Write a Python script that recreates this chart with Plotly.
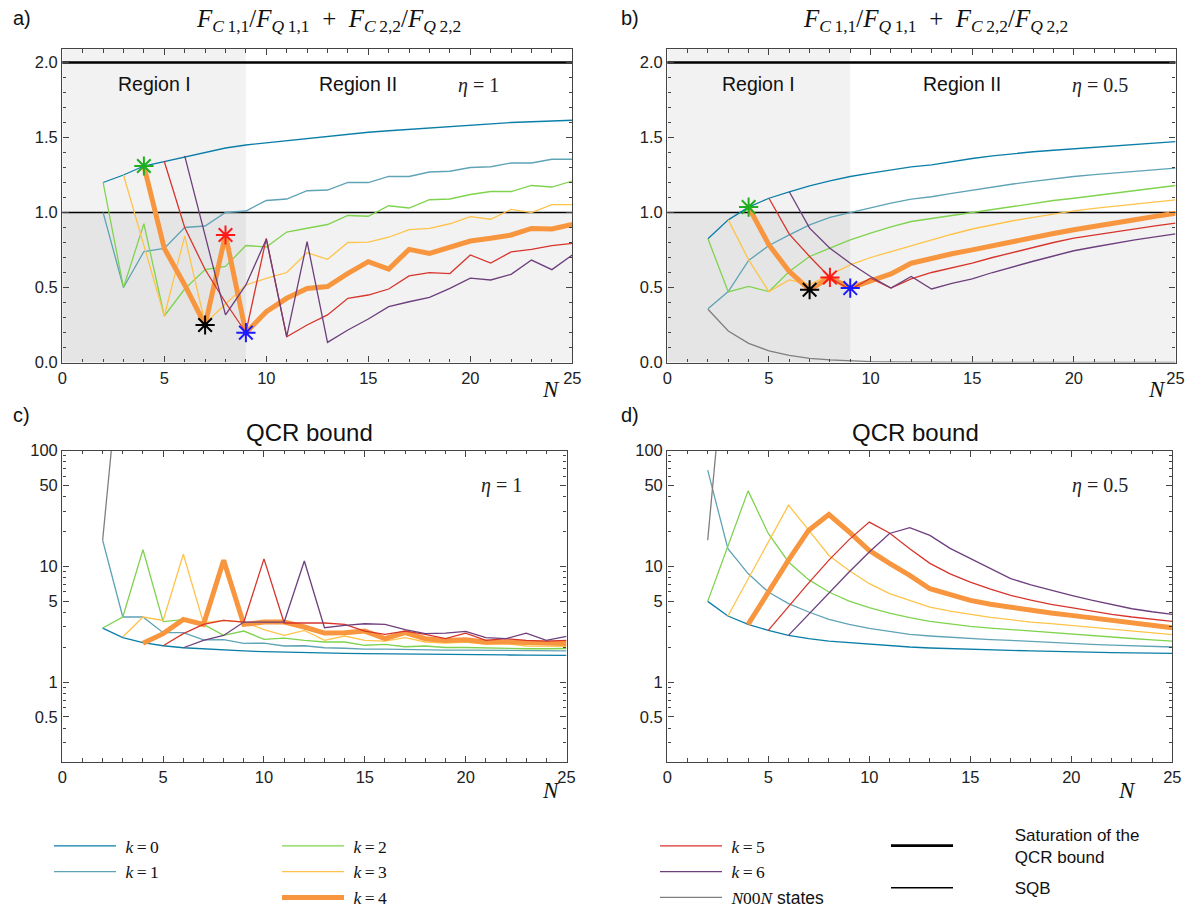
import plotly.graph_objects as go

# ---------------- data ----------------
# panel a) eta = 1 : F_C11/F_Q11 + F_C22/F_Q22
A_K0 = [1.20, 1.25, 1.31, 1.34, 1.375, 1.40, 1.43, 1.45, 1.465, 1.48, 1.495, 1.505, 1.52, 1.535, 1.545, 1.555, 1.565, 1.575, 1.585, 1.59, 1.60, 1.605, 1.61, 1.615]
A_K1 = [1.00, 0.50, 0.74, 0.76, 0.90, 0.91, 1.00, 1.01, 1.08, 1.09, 1.145, 1.15, 1.20, 1.20, 1.24, 1.24, 1.27, 1.275, 1.30, 1.305, 1.33, 1.33, 1.355, 1.355]
A_K2 = [1.20, 0.50, 0.925, 0.31, 0.49, 0.62, 0.64, 0.78, 0.77, 0.87, 0.895, 0.92, 0.98, 0.975, 1.045, 1.03, 1.085, 1.09, 1.12, 1.14, 1.14, 1.18, 1.17, 1.21]
A_K3 = [1.25, 0.78, 0.31, 0.843, 0.26, 0.39, 0.517, 0.561, 0.60, 0.732, 0.688, 0.80, 0.803, 0.835, 0.886, 0.894, 0.925, 0.972, 0.955, 1.021, 0.999, 1.052, 1.052]
A_K4 = [1.31, 0.761, 0.517, 0.25, 0.85, 0.199, 0.339, 0.428, 0.494, 0.506, 0.594, 0.672, 0.623, 0.754, 0.727, 0.772, 0.81, 0.828, 0.85, 0.894, 0.89, 0.921]
A_K5 = [1.34, 0.90, 0.62, 0.40, 0.20, 0.828, 0.172, 0.25, 0.317, 0.428, 0.45, 0.49, 0.577, 0.599, 0.593, 0.717, 0.663, 0.737, 0.754, 0.779, 0.794]
A_K6 = [1.377, 0.84, 0.317, 0.517, 0.822, 0.172, 0.805, 0.134, 0.217, 0.29, 0.372, 0.405, 0.434, 0.494, 0.563, 0.55, 0.588, 0.683, 0.619, 0.717]

# panel b) eta = 0.5
B_K0 = [0.825, 0.951, 1.036, 1.095, 1.138, 1.178, 1.211, 1.24, 1.262, 1.284, 1.304, 1.318, 1.34, 1.36, 1.377, 1.392, 1.405, 1.415, 1.425, 1.435, 1.445, 1.455, 1.465, 1.473]
B_K1 = [0.358, 0.473, 0.68, 0.78, 0.851, 0.918, 0.967, 1.0, 1.033, 1.062, 1.089, 1.105, 1.128, 1.15, 1.17, 1.19, 1.208, 1.225, 1.24, 1.253, 1.265, 1.276, 1.287, 1.296]
B_K2 = [0.825, 0.47, 0.507, 0.473, 0.607, 0.707, 0.762, 0.818, 0.862, 0.904, 0.94, 0.96, 0.985, 1.005, 1.025, 1.045, 1.063, 1.08, 1.095, 1.112, 1.129, 1.146, 1.163, 1.18]
B_K3 = [0.951, 0.684, 0.473, 0.551, 0.52, 0.584, 0.651, 0.70, 0.74, 0.778, 0.815, 0.855, 0.89, 0.92, 0.945, 0.968, 0.99, 1.011, 1.027, 1.042, 1.057, 1.071, 1.084]
B_K4 = [1.036, 0.784, 0.607, 0.485, 0.567, 0.496, 0.544, 0.591, 0.662, 0.695, 0.725, 0.751, 0.78, 0.81, 0.835, 0.86, 0.885, 0.91, 0.93, 0.952, 0.974, 0.995]
B_K5 = [1.095, 0.856, 0.707, 0.567, 0.485, 0.562, 0.496, 0.558, 0.60, 0.632, 0.662, 0.70, 0.735, 0.77, 0.80, 0.829, 0.85, 0.872, 0.892, 0.911, 0.929]
B_K6 = [1.138, 0.896, 0.762, 0.662, 0.573, 0.496, 0.573, 0.49, 0.527, 0.558, 0.60, 0.64, 0.675, 0.71, 0.745, 0.77, 0.795, 0.818, 0.838, 0.858]
B_N00N = [0.355, 0.21, 0.128, 0.078, 0.047, 0.028, 0.017, 0.010, 0.006, 0.004, 0.002, 0.0015, 0.001, 0.0006, 0.0004, 0.0002, 0.0001, 0.0001, 0.0, 0.0, 0.0, 0.0, 0.0, 0.0]

# panel c) QCR bound, eta = 1
C_K0 = [2.93, 2.42, 2.19, 2.06, 1.98, 1.93, 1.89, 1.86, 1.83, 1.81, 1.80, 1.79, 1.77, 1.76, 1.75, 1.745, 1.74, 1.735, 1.73, 1.72, 1.715, 1.71, 1.705, 1.70]
C_K1 = [16.8, 3.65, 3.65, 2.67, 2.67, 2.32, 2.33, 2.16, 2.17, 2.05, 2.06, 1.98, 1.96, 1.93, 1.93, 1.91, 1.91, 1.89, 1.89, 1.88, 1.88, 1.87, 1.87, 1.86]
C_K2 = [2.93, 3.65, 13.9, 3.33, 3.46, 3.15, 2.53, 2.76, 2.34, 2.40, 2.29, 2.22, 2.22, 2.08, 2.12, 2.02, 2.05, 1.99, 1.99, 1.97, 1.96, 1.94, 1.94, 1.95]
C_K3 = [2.45, 3.65, 3.41, 12.7, 3.24, 3.41, 3.30, 2.84, 2.53, 2.80, 2.29, 2.50, 2.29, 2.26, 2.42, 2.22, 2.17, 2.22, 2.12, 2.15, 2.05, 2.05, 2.04]
C_K4 = [2.17, 2.62, 3.48, 3.15, 11.3, 3.15, 3.30, 3.30, 2.99, 2.65, 2.67, 2.76, 2.37, 2.67, 2.37, 2.29, 2.32, 2.22, 2.22, 2.19, 2.17, 2.15]
C_K5 = [2.06, 2.62, 3.15, 3.41, 3.30, 11.6, 3.24, 3.24, 3.24, 3.15, 2.76, 2.58, 2.76, 2.58, 2.37, 2.65, 2.29, 2.37, 2.29, 2.26, 2.29]
C_K6 = [1.98, 2.29, 2.53, 3.30, 3.30, 3.30, 11.1, 2.95, 3.09, 3.19, 3.15, 2.84, 2.62, 2.65, 2.74, 2.42, 2.37, 2.65, 2.29, 2.48]
C_N00N = [16.8, 1070.0]

# panel d) QCR bound, eta = 0.5
D_K0 = [4.98, 3.72, 3.15, 2.80, 2.53, 2.37, 2.26, 2.19, 2.12, 2.06, 2.01, 1.97, 1.94, 1.92, 1.90, 1.88, 1.86, 1.84, 1.82, 1.81, 1.80, 1.79, 1.78, 1.77]
D_K1 = [67.6, 14.2, 8.65, 6.0, 4.76, 4.03, 3.48, 3.15, 2.91, 2.74, 2.58, 2.50, 2.43, 2.37, 2.33, 2.29, 2.24, 2.20, 2.17, 2.12, 2.09, 2.06, 2.03, 2.01]
D_K2 = [4.98, 14.9, 44.8, 19.2, 10.9, 7.67, 6.0, 5.01, 4.40, 3.95, 3.60, 3.35, 3.17, 3.03, 2.93, 2.84, 2.75, 2.68, 2.62, 2.53, 2.45, 2.38, 2.32, 2.26]
D_K3 = [3.72, 7.76, 16.2, 33.7, 20.5, 12.4, 9.2, 7.08, 5.8, 5.08, 4.45, 4.1, 3.85, 3.62, 3.46, 3.30, 3.20, 3.09, 2.97, 2.85, 2.75, 2.66, 2.57]
D_K4 = [3.15, 6.0, 11.3, 20.5, 28.0, 19.8, 13.7, 10.6, 8.36, 6.4, 5.7, 5.08, 4.7, 4.40, 4.15, 3.95, 3.77, 3.58, 3.40, 3.23, 3.08, 2.95]
D_K5 = [2.80, 4.5, 7.2, 11.3, 17.0, 24.1, 19.4, 14.2, 10.6, 8.6, 7.31, 6.35, 5.61, 5.1, 4.7, 4.40, 4.10, 3.85, 3.65, 3.48, 3.35]
D_K6 = [2.53, 3.86, 5.86, 8.93, 13.3, 19.2, 21.6, 18.5, 14.3, 11.7, 9.5, 7.83, 6.9, 6.2, 5.61, 5.1, 4.65, 4.3, 4.05, 3.85]
D_N00N = [16.8, 1300.0]

K_START = [2, 2, 2, 3, 4, 5, 6]   # first N of k = 0..6
N00N_START = 2
N_MAX = 25

STAR_N = [4, 7, 8, 9]            # stars sit on the k = 4 curve
STAR_COLORS = ["#1fae1f", "#000000", "#ff1a1a", "#1a1aff"]

SATURATION = 2.0
SQB = 1.0
REGION_I_END = 9

K_COLORS = ["#0b7ea8", "#5fa3b6", "#7fd34e", "#ffc34a", "#f7963f", "#d7352b", "#6d3f7d"]
N00N_COLOR = "#7f7f7f"
K_LABELS = ["\u2005<i>k</i>\u2009=\u2009%d" % k for k in range(7)]
N00N_LABEL = "\u2005<i>N</i>00<i>N</i><span style='font-family:Liberation Sans'> states</span>"

PANELS = [
    ("x", "y", [A_K0, A_K1, A_K2, A_K3, A_K4, A_K5, A_K6], None),
    ("x2", "y2", [B_K0, B_K1, B_K2, B_K3, B_K4, B_K5, B_K6], B_N00N),
    ("x3", "y3", [C_K0, C_K1, C_K2, C_K3, C_K4, C_K5, C_K6], C_N00N),
    ("x4", "y4", [D_K0, D_K1, D_K2, D_K3, D_K4, D_K5, D_K6], D_N00N),
]
LEGEND_OF_K = ["legend", "legend", "legend2", "legend2", "legend2", "legend3", "legend3"]

fig = go.Figure()

for pi, (xa, ya, series, n00n) in enumerate(PANELS):
    for k, vals in enumerate(series):
        ns = list(range(K_START[k], K_START[k] + len(vals)))
        fig.add_trace(go.Scatter(
            x=ns, y=vals, mode="lines", xaxis=xa, yaxis=ya,
            line=dict(color=K_COLORS[k], width=5 if k == 4 else 1.3),
            name=K_LABELS[k], legendgroup="k%d" % k, legend=LEGEND_OF_K[k],
            showlegend=(pi == 0), hoverinfo="x+y"))
    if n00n is not None:
        ns = list(range(N00N_START, N00N_START + len(n00n)))
        fig.add_trace(go.Scatter(
            x=ns, y=n00n, mode="lines", xaxis=xa, yaxis=ya,
            line=dict(color=N00N_COLOR, width=1.3), name=N00N_LABEL,
            legendgroup="n00n", legend="legend3", showlegend=(pi == 1)))

# stars on the k = 4 curve in panels a) and b)
for xa, ya, k4 in [("x", "y", A_K4), ("x2", "y2", B_K4)]:
    fig.add_trace(go.Scatter(
        x=STAR_N, y=[k4[n - K_START[4]] for n in STAR_N], mode="markers",
        xaxis=xa, yaxis=ya, showlegend=False,
        marker=dict(symbol="asterisk-open", size=16, color=STAR_COLORS,
                    line=dict(color=STAR_COLORS, width=2))))

# legend-only entries for the reference lines
PAD = "\u00a0" * 12
fig.add_trace(go.Scatter(x=[None], y=[None], mode="lines", line=dict(color="black", width=2.8),
                         name=PAD + "Saturation of the<br>" + PAD + "QCR bound",
                         legend="legend4", legendgroup="sat"))
fig.add_trace(go.Scatter(x=[None], y=[None], mode="lines", line=dict(color="black", width=1.5),
                         name=PAD + "SQB", legend="legend4", legendgroup="sqb"))

# ---------------- axes ----------------
FRAME = "#444444"
TICKFONT = dict(family="Liberation Sans, Arial, sans-serif", size=16.5, color="#222222")


def xaxis(domain, anchor):
    return dict(domain=domain, anchor=anchor, range=[0, N_MAX], showgrid=False, zeroline=False,
                showline=True, linecolor=FRAME, linewidth=1.4, mirror="allticks", automargin=False,
                ticks="inside", ticklen=6, tickwidth=1.2, tickcolor=FRAME,
                tickvals=[0, 5, 10, 15, 20, 25], tickfont=TICKFONT,
                minor=dict(ticks="inside", dtick=1, ticklen=3.5, tickcolor=FRAME, showgrid=False))


def yaxis_lin(domain, anchor):
    return dict(domain=domain, anchor=anchor, range=[0, 2.09], showgrid=False, zeroline=False,
                showline=True, linecolor=FRAME, linewidth=1.4, mirror="allticks", automargin=False,
                ticks="inside", ticklen=6, tickwidth=1.2, tickcolor=FRAME,
                tickvals=[0, 0.5, 1.0, 1.5, 2.0], tickformat=".1f", tickfont=TICKFONT,
                minor=dict(ticks="inside", dtick=0.1, ticklen=3.5, tickcolor=FRAME, showgrid=False))


LOG_MAJOR = [0.5, 1, 5, 10, 50, 100]
LOG_MINOR = [0.2, 0.3, 0.4, 0.6, 0.7, 0.8, 0.9, 2, 3, 4, 6, 7, 8, 9, 20, 30, 40, 60, 70, 80, 90]


def yaxis_log(domain, anchor):
    return dict(domain=domain, anchor=anchor, type="log", range=[-0.69, 2.0], showgrid=False,
                zeroline=False, showline=True, linecolor=FRAME, linewidth=1.4, mirror="allticks",
                automargin=False, ticks="inside", ticklen=6, tickwidth=1.2, tickcolor=FRAME,
                tickvals=LOG_MAJOR, ticktext=["0.5", "1", "5", "10", "50", "100"], tickfont=TICKFONT,
                minor=dict(ticks="inside", tickvals=LOG_MINOR, ticklen=3.5, tickcolor=FRAME, showgrid=False))


XL = [62.3 / 1191, 572.3 / 1191]
XR = [667.3 / 1191, 1175.5 / 1191]
XLc = [62.3 / 1191, 566.5 / 1191]
XRd = [667.3 / 1191, 1172.3 / 1191]
YT = [1 - 362.5 / 910, 1 - 49 / 910]
YB = [1 - 762 / 910, 1 - 450.5 / 910]

fig.update_layout(
    xaxis=xaxis(XL, "y"), yaxis=yaxis_lin(YT, "x"),
    xaxis2=xaxis(XR, "y2"), yaxis2=yaxis_lin(YT, "x2"),
    xaxis3=xaxis(XLc, "y3"), yaxis3=yaxis_log(YB, "x3"),
    xaxis4=xaxis(XRd, "y4"), yaxis4=yaxis_log(YB, "x4"),
)

# ---------------- shading + reference lines ----------------
shapes = []
for xa, ya in [("x", "y"), ("x2", "y2")]:
    shapes.append(dict(type="rect", xref=xa, yref=ya + " domain", x0=0, x1=REGION_I_END, y0=0, y1=1,
                       fillcolor="rgba(0,0,0,0.05)", line=dict(width=0), layer="below"))
    shapes.append(dict(type="rect", xref=xa + " domain", yref=ya, x0=0, x1=1, y0=0, y1=SQB,
                       fillcolor="rgba(0,0,0,0.05)", line=dict(width=0), layer="below"))
    shapes.append(dict(type="line", xref=xa + " domain", yref=ya, x0=0, x1=1, y0=SATURATION, y1=SATURATION,
                       line=dict(color="black", width=2.6), layer="below"))
    shapes.append(dict(type="line", xref=xa + " domain", yref=ya, x0=0, x1=1, y0=SQB, y1=SQB,
                       line=dict(color="black", width=1.5), layer="below"))

# ---------------- text ----------------
SANS = "Liberation Sans, Arial, sans-serif"
SERIF = "Liberation Serif, Times New Roman, serif"
SUB_SP = "\u2009"
TITLE_MATH = ("<i>F</i><sub><i>C</i>" + SUB_SP + "1,1</sub>/<i>F</i><sub><i>Q</i>" + SUB_SP + "1,1</sub>"
              + "\u2002+\u2002"
              + "<i>F</i><sub><i>C</i>" + SUB_SP + "2,2</sub>/<i>F</i><sub><i>Q</i>" + SUB_SP + "2,2</sub>")

ann = []


def paper_text(text, x_px, y_px, font, xanchor="center"):
    ann.append(dict(text=text, x=x_px / 1191, y=1 - y_px / 910, xref="paper", yref="paper",
                    showarrow=False, xanchor=xanchor, yanchor="middle", font=font))


for lab, xp, yp in [("a)", 11, 18), ("b)", 619, 18), ("c)", 11, 415), ("d)", 619, 415)]:
    paper_text(lab, xp, yp, dict(family=SANS, size=20, color="#111"), xanchor="left")

paper_text(TITLE_MATH, 328, 20, dict(family=SERIF, size=25, color="#111"))
paper_text(TITLE_MATH, 935, 20, dict(family=SERIF, size=25, color="#111"))
paper_text("QCR bound", 309, 432, dict(family=SANS, size=24, color="#111"))
paper_text("QCR bound", 915, 432, dict(family=SANS, size=24, color="#111"))

for xp, yp in [(551, 389), (1157, 389), (551, 790), (1127, 790)]:
    paper_text("<i>N</i>", xp, yp, dict(family=SERIF, size=23, color="#111"))

for xa, ya in [("x", "y"), ("x2", "y2")]:
    ann.append(dict(text="Region I", x=4.5, y=1.86, xref=xa, yref=ya, showarrow=False,
                    font=dict(family=SANS, size=19.5, color="#111")))
    ann.append(dict(text="Region II", x=14.5, y=1.86, xref=xa, yref=ya, showarrow=False,
                    font=dict(family=SANS, size=19.5, color="#111")))

for xa, ya, txt, xv, yv in [("x", "y", "<i>\u03b7</i> = 1", 20.4, 1.85),
                            ("x2", "y2", "<i>\u03b7</i> = 0.5", 21.3, 1.85),
                            ("x3", "y3", "<i>\u03b7</i> = 1", 21.8, 1.70),
                            ("x4", "y4", "<i>\u03b7</i> = 0.5", 21.4, 1.70)]:
    ann.append(dict(text=txt, x=xv, y=yv, xref=xa, yref=ya, showarrow=False,
                    font=dict(family=SERIF, size=20, color="#222")))

LEG_FONT = dict(family=SERIF, size=17.5, color="#111")


def legend_at(x_px, y_px, font=LEG_FONT, gap=0):
    return dict(x=x_px / 1191, y=1 - y_px / 910, xanchor="left", yanchor="top",
                bgcolor="rgba(0,0,0,0)", borderwidth=0, itemwidth=62, font=font,
                tracegroupgap=gap, itemclick=False, itemdoubleclick=False)


fig.update_layout(
    width=1191, height=910, margin=dict(l=0, r=0, t=0, b=0, autoexpand=False),
    paper_bgcolor="white", plot_bgcolor="white",
    shapes=shapes, annotations=ann, showlegend=True,
    legend=legend_at(49, 828), legend2=legend_at(277, 828), legend3=legend_at(655, 828),
    legend4=legend_at(886, 817, dict(family=SANS, size=17, color="#111"), gap=6),
)

fig.write_html("out.html")
